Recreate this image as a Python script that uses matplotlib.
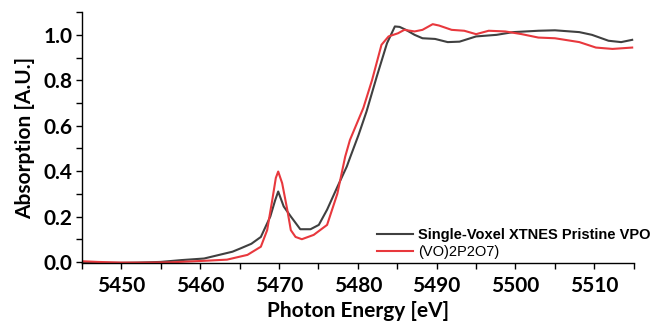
import numpy as np
import matplotlib
matplotlib.use("Agg")
import matplotlib.pyplot as plt
from matplotlib.ticker import MultipleLocator

# Single-Voxel XTNES Pristine VPO (dark grey)
e_voxel = [5445, 5447, 5450, 5452, 5455, 5457.6, 5460.5, 5464.1, 5465.15, 5466.5,
           5467.7, 5468.9, 5469.5, 5469.9, 5470.6, 5471.5, 5472.7, 5474.0,
           5475.05, 5476.1, 5477.4, 5478.6, 5479.0, 5480.1, 5481.1, 5482.4,
           5483.7, 5484.7, 5485.3, 5486.1, 5487.2, 5488.2, 5489.8, 5491.4,
           5492.9, 5495, 5497.6, 5499.7, 5502.9, 5505, 5508.1, 5509.7, 5511.8,
           5513.4, 5514.8]
a_voxel = [0.0, -0.004, -0.004, -0.003, 0.0, 0.008, 0.015, 0.045, 0.06, 0.08,
           0.11, 0.2, 0.27, 0.31, 0.244, 0.2, 0.144, 0.144,
           0.163, 0.23, 0.33, 0.42, 0.458, 0.56, 0.662, 0.816,
           0.963, 1.037, 1.035, 1.022, 1.0, 0.985, 0.982, 0.968,
           0.97, 0.993, 1.0, 1.012, 1.018, 1.02, 1.012, 1.0, 0.974,
           0.968, 0.978]

# (VO)2P2O7 reference (red)
e_ref = [5445, 5447, 5450, 5453, 5456, 5460, 5463.4, 5466.0, 5467.7, 5468.5,
         5469.15, 5469.6, 5469.9, 5470.4, 5471.05, 5471.5, 5472.1, 5472.9,
         5474.4, 5476.1, 5477.4, 5478.4, 5479.0, 5480.7, 5481.8, 5483.0,
         5483.9, 5485.1, 5485.9, 5487.2, 5488.2, 5489.5, 5490.3, 5491.9,
         5493.5, 5495, 5496.6, 5498.7, 5500.8, 5502.9, 5505, 5508.1, 5510.2,
         5512.3, 5514.8]
a_ref = [0.003, 0.0, -0.003, -0.003, -0.002, 0.004, 0.01, 0.031, 0.067, 0.14,
         0.273, 0.37, 0.398, 0.347, 0.23, 0.14, 0.11, 0.10,
         0.119, 0.163, 0.30, 0.464, 0.537, 0.678, 0.80, 0.956,
         0.993, 1.007, 1.022, 1.015, 1.022, 1.047, 1.041, 1.022,
         1.018, 1.003, 1.018, 1.015, 1.003, 0.988, 0.985, 0.968, 0.944,
         0.938, 0.944]

labels = ['Single-Voxel XTNES Pristine VPO', '(VO)2P2O7)']

fig = plt.figure(figsize=(6.5, 3.28), dpi=100)
ax = fig.add_axes([0.126, 0.198, 0.849, 0.765])

ax.plot(e_voxel, a_voxel, color='#404040', lw=1.5, label=labels[0])
ax.plot(e_ref, a_ref, color='#e8383d', lw=1.5, label=labels[1])

ax.set_xlim(5445, 5515)
ax.set_ylim(-0.005, 1.10)
ax.xaxis.set_major_locator(MultipleLocator(10))
ax.xaxis.set_minor_locator(MultipleLocator(5))
ax.yaxis.set_major_locator(MultipleLocator(0.2))
ax.yaxis.set_minor_locator(MultipleLocator(0.1))
ax.yaxis.set_major_formatter(matplotlib.ticker.FormatStrFormatter('%.1f'))

for s in ['top', 'right']:
    ax.spines[s].set_visible(False)
for s in ['left', 'bottom']:
    ax.spines[s].set_linewidth(1.0)

ax.tick_params(which='both', direction='out', length=4, width=1.0)
ax.tick_params(axis='x', pad=5)
ax.tick_params(axis='y', pad=3)
for lab in ax.get_xticklabels() + ax.get_yticklabels():
    lab.set_fontfamily('Lato')
    lab.set_fontweight('bold')
    lab.set_fontsize(15)

ax.set_xlabel('Photon Energy [eV]', fontfamily='Lato', fontweight='bold',
              fontsize=15, labelpad=4)
ax.set_ylabel('Absorption [A.U.]', fontfamily='Lato', fontweight='bold',
              fontsize=15, labelpad=6)

leg = ax.legend(loc='upper left', bbox_to_anchor=(0.58, 0.305),
                bbox_transform=fig.transFigure, frameon=False,
                borderpad=0, borderaxespad=0, handlelength=2.5,
                handletextpad=0.3, labelspacing=0.2,
                prop={'family': 'Liberation Sans', 'size': 10.5, 'weight': 'bold'})
leg.get_texts()[1].set_fontweight('normal')

fig.savefig('out.png', dpi=100)
